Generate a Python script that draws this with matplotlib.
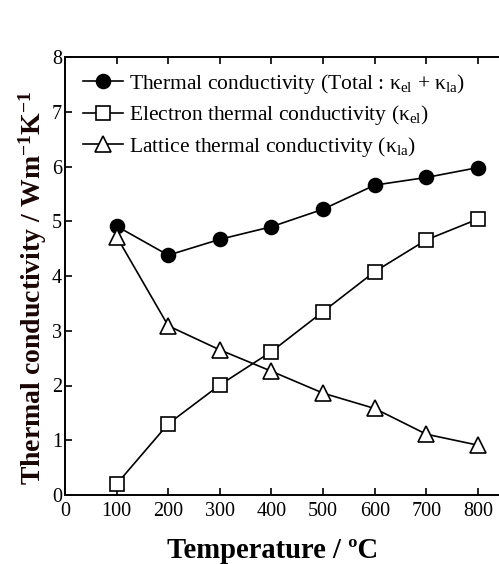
import matplotlib
matplotlib.use("Agg")
import matplotlib.pyplot as plt

plt.rcParams['font.family'] = ['Liberation Serif', 'DejaVu Serif']
plt.rcParams['mathtext.fontset'] = 'custom'
plt.rcParams['mathtext.rm'] = 'Liberation Serif'
plt.rcParams['mathtext.it'] = 'Liberation Serif:italic'
plt.rcParams['mathtext.bf'] = 'Liberation Serif:bold'

temperature = [100, 200, 300, 400, 500, 600, 700, 800]
total_k = [4.91, 4.38, 4.67, 4.90, 5.22, 5.66, 5.80, 5.98]
electron_k = [0.20, 1.30, 2.01, 2.62, 3.35, 4.08, 4.66, 5.04]
lattice_k = [4.72, 3.09, 2.65, 2.26, 1.86, 1.58, 1.11, 0.91]

labels = [
    "Thermal conductivity (Total : κ$_{\\mathrm{el}}$ + κ$_{\\mathrm{la}}$)",
    "Electron thermal conductivity (κ$_{\\mathrm{el}}$)",
    "Lattice thermal conductivity (κ$_{\\mathrm{la}}$)",
]
xticks = [0, 100, 200, 300, 400, 500, 600, 700, 800]
yticks = [0, 1, 2, 3, 4, 5, 6, 7, 8]

fig = plt.figure(figsize=(4.99, 5.64), dpi=100)
ax = fig.add_axes([65/499, 69/564, 438.8/499, 438/564])

ms = 10.5
ax.plot(temperature, total_k, '-o', color='black', lw=1.2, ms=ms - 0.5,
        mfc='black', mec='black', mew=1.2, label=labels[0])
ax.plot(temperature, electron_k, '-s', color='black', lw=1.2, ms=ms - 0.5,
        mfc='white', mec='black', mew=1.2, label=labels[1])
ax.plot(temperature, lattice_k, '-^', color='black', lw=1.2, ms=ms + 1,
        mfc='white', mec='black', mew=1.2, label=labels[2])

ax.set_xlim(0, 850)
ax.set_ylim(0, 8)
ax.set_xticks(xticks)
ax.set_yticks(yticks)
ax.tick_params(direction='in', length=5, width=1.2, labelsize=14.5,
               top=True, right=False, pad=2)
ax.tick_params(axis='x', pad=5)
for s in ax.spines.values():
    s.set_linewidth(1.4)
ax.spines['right'].set_visible(False)

ax.set_xlabel("Temperature / ºC", fontsize=20.6, fontweight='bold')
ax.xaxis.set_label_coords(0.472, -0.095)
ax.set_ylabel("Thermal conductivity / Wm$^{\\mathregular{-1}}$K$^{\\mathregular{-1}}$",
              fontsize=20, fontweight='bold', color='#1a0505')
ax.yaxis.set_label_coords(-0.037, 0.4726)

leg = ax.legend(loc='upper left', frameon=False, fontsize=15.5,
                handlelength=1.86, handletextpad=0.28, labelspacing=0.35,
                borderaxespad=0.0, borderpad=0.0,
                bbox_to_anchor=(0.041, 0.966))

fig.savefig("out.png", dpi=100)
